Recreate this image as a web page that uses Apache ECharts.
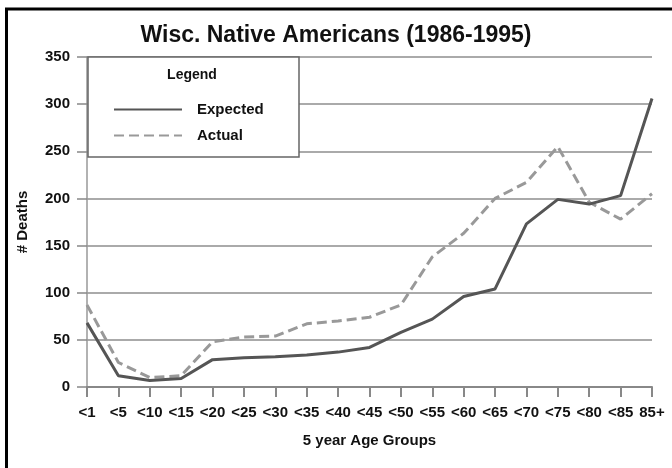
<!DOCTYPE html>
<html>
<head>
<meta charset="utf-8">
<title>Wisc. Native Americans (1986-1995)</title>
<script src="https://cdn.jsdelivr.net/npm/echarts@6/dist/echarts.min.js"></script>
<style>
  html, body { margin: 0; padding: 0; background: #fff; }
  #chart { width: 672px; height: 468px; }
</style>
</head>
<body>
<div id="chart"></div>
<script>
(function () {
  'use strict';

  // 5 year age groups
  var ageGroups = ['<1', '<5', '<10', '<15', '<20', '<25', '<30', '<35', '<40', '<45',
    '<50', '<55', '<60', '<65', '<70', '<75', '<80', '<85', '85+'];

  // # deaths
  var expected = [68, 12, 7, 9, 29, 31, 32, 34, 37, 42, 58, 72, 96, 104, 173, 199, 194, 203, 306];
  var actual = [87, 26, 10, 12, 48, 53, 54, 67, 70, 74, 87, 138, 163, 200, 217, 255, 196, 178, 205];

  var yTicks = { min: 0, max: 350, interval: 50 };

  var labelFont = '"Liberation Sans Narrow", "Liberation Sans", Arial, sans-serif';

  var chart = echarts.init(document.getElementById('chart'));

  var option = {
    backgroundColor: '#fff',
    animation: false,
    title: {
      text: 'Wisc. Native Americans (1986-1995)',
      left: 'center',
      top: 19,
      textStyle: {
        fontFamily: '"Liberation Sans", Arial, sans-serif',
        fontSize: 23,
        fontWeight: 'bold',
        color: '#111'
      }
    },
    grid: { left: 87, right: 20, top: 57, bottom: 81 },
    legend: {
      orient: 'vertical',
      left: 108,
      top: 97,
      itemWidth: 68,
      itemHeight: 14,
      itemGap: 11,
      z: 6,
      itemStyle: { opacity: 0 },
      data: ['Expected', 'Actual'],
      textStyle: {
        fontFamily: labelFont,
        fontSize: 15,
        fontWeight: 'bold',
        color: '#111',
        padding: [0, 0, 0, 10]
      }
    },
    graphic: [
      {
        type: 'rect',
        z: 5,
        shape: { x: 88, y: 57, width: 211, height: 100 },
        style: { fill: '#fff', stroke: '#666', lineWidth: 1.5 }
      },
      {
        type: 'text',
        z: 6,
        x: 192,
        y: 75,
        style: {
          text: 'Legend',
          fill: '#111',
          font: 'bold 14px ' + labelFont,
          textAlign: 'center',
          textVerticalAlign: 'middle'
        }
      },
      {
        type: 'rect',
        z: 10,
        silent: true,
        shape: { x: 6.5, y: 9, width: 700, height: 500 },
        style: { fill: 'none', stroke: '#000', lineWidth: 3 }
      }
    ],
    xAxis: {
      type: 'category',
      data: ageGroups,
      boundaryGap: false,
      name: '5 year Age Groups',
      nameLocation: 'middle',
      nameGap: 46,
      nameTextStyle: {
        fontFamily: labelFont,
        fontSize: 15,
        fontWeight: 'bold',
        color: '#111'
      },
      axisLine: { lineStyle: { color: '#888', width: 2 } },
      axisTick: { length: 10, lineStyle: { color: '#888', width: 2 } },
      axisLabel: {
        interval: 0,
        margin: 18,
        fontFamily: labelFont,
        fontSize: 15,
        fontWeight: 'bold',
        color: '#111'
      }
    },
    yAxis: {
      type: 'value',
      min: yTicks.min,
      max: yTicks.max,
      interval: yTicks.interval,
      name: '# Deaths',
      nameLocation: 'middle',
      nameGap: 57,
      nameTextStyle: {
        fontFamily: labelFont,
        fontSize: 15,
        fontWeight: 'bold',
        color: '#111'
      },
      axisLine: { show: true, lineStyle: { color: '#999', width: 1.5 } },
      axisTick: { show: true, length: 10, lineStyle: { color: '#888', width: 1.5 } },
      axisLabel: {
        margin: 17,
        fontFamily: labelFont,
        fontSize: 15,
        fontWeight: 'bold',
        color: '#111'
      },
      splitLine: { lineStyle: { color: '#aaa', width: 2 } }
    },
    series: [
      {
        name: 'Expected',
        type: 'line',
        data: expected,
        symbol: 'none',
        z: 3,
        lineStyle: { color: '#555', width: 3 },
        itemStyle: { color: '#555' }
      },
      {
        name: 'Actual',
        type: 'line',
        data: actual,
        symbol: 'none',
        z: 2,
        lineStyle: { color: '#999', width: 3, type: [10, 5] },
        itemStyle: { color: '#999' }
      }
    ]
  };

  chart.setOption(option);
})();
</script>
</body>
</html>
